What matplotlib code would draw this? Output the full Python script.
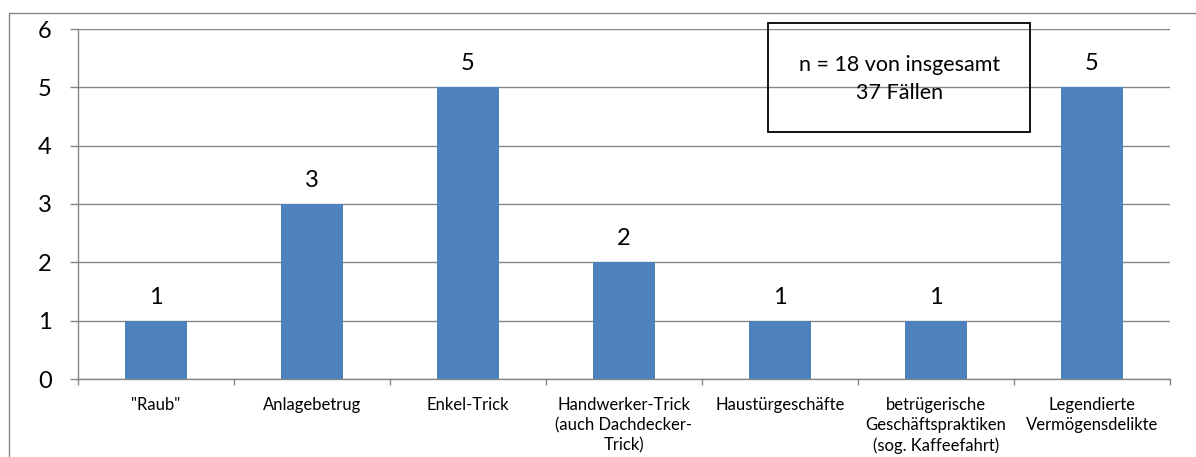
import matplotlib
matplotlib.use("Agg")
import matplotlib.pyplot as plt
from matplotlib.patches import Rectangle
import numpy as np

# data
categories = ['"Raub"', 'Anlagebetrug', 'Enkel-Trick',
              'Handwerker-Trick\n(auch Dachdecker-\nTrick)', 'Haustürgeschäfte',
              'betrügerische\nGeschäftspraktiken\n(sog. Kaffeefahrt)',
              'Legendierte\nVermögensdelikte']
counts = [1, 3, 5, 2, 1, 1, 5]
y_ticks = [0, 1, 2, 3, 4, 5, 6]
note = "n = 18 von insgesamt\n37 Fällen"

plt.rcParams['font.family'] = ['Lato', 'DejaVu Sans']
grey = '#868686'

fig = plt.figure(figsize=(11.96, 4.57), dpi=100)
ax = fig.add_axes([78/1196, 1 - 379/457, 1092/1196, 350/457])

x = np.arange(len(categories))
ax.bar(x, counts, width=0.4, color='#4F81BD', zorder=3)

# value labels above the bars
for xi, v in zip(x, counts):
    ax.annotate(str(v), (xi, v), xytext=(0, 17), textcoords='offset points',
                ha='center', va='center', fontsize=17)

ax.set_xlim(-0.5, len(categories) - 0.5)
ax.set_ylim(0, 6)
ax.set_yticks(y_ticks)
ax.grid(axis='y', color=grey, linewidth=1, zorder=0)
ax.set_axisbelow(True)

# category labels at centers, tick marks at boundaries
ax.set_xticks(x)
ax.set_xticklabels(categories, fontsize=12, linespacing=1.32)
ax.set_xticks(np.arange(-0.5, len(categories)), minor=True)
ax.tick_params(axis='x', which='major', length=0, pad=13)
ax.tick_params(axis='x', which='minor', length=4, color=grey, width=1)
ax.tick_params(axis='y', length=6, color=grey, width=1, labelsize=17, pad=13)

for s in ['top', 'right']:
    ax.spines[s].set_visible(False)
for s in ['left', 'bottom']:
    ax.spines[s].set_color(grey)
    ax.spines[s].set_linewidth(1)

# note box
ax.add_patch(Rectangle((0.632, 0.706), 0.24, 0.311, transform=ax.transAxes,
                       fill=False, edgecolor='black', linewidth=1.3,
                       clip_on=False, zorder=5))
ax.text(0.752, 0.857, note, transform=ax.transAxes, ha='center', va='center',
        fontsize=15.5, linespacing=1.45)

# outer chart frame (cut off at right and bottom)
fig.patches.append(Rectangle((9/1196, -0.1), 1.2, 0.1 + 1 - 13/457,
                             transform=fig.transFigure, fill=False,
                             edgecolor=grey, linewidth=1))

fig.savefig("out.png", dpi=100)
